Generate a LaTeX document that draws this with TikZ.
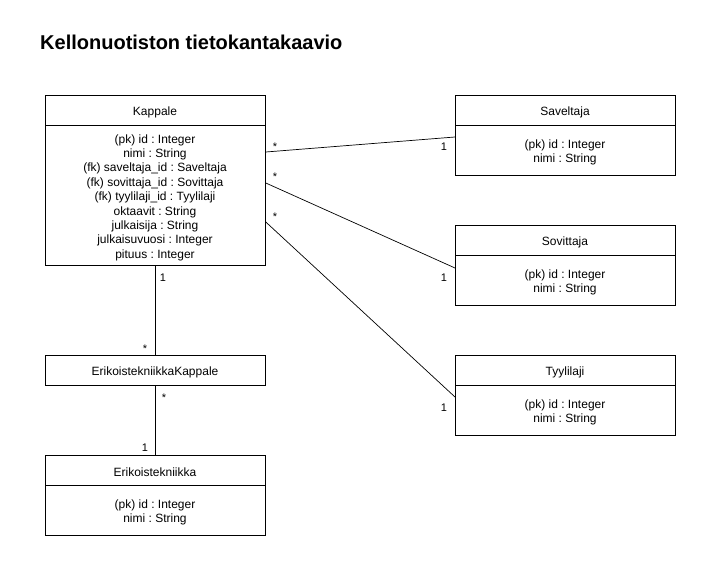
\documentclass[tikz,border=0pt]{standalone}
\usepackage{fontspec}
\setmainfont{Liberation Sans}
\usetikzlibrary{calc}
\frenchspacing
\begin{document}
\frenchspacing
\begin{tikzpicture}[x=1pt,y=-1pt,
  box/.style={draw,line width=0.8pt,anchor=north west,inner sep=0,minimum width=220pt},
  txt/.style={font=\fontsize{12}{14.4}\selectfont\frenchspacing,align=center,inner sep=0,yshift=-2pt},
  mult/.style={font=\fontsize{11}{13}\selectfont,inner sep=0,anchor=base},
  conn/.style={line width=0.7pt}]
\useasboundingbox (0,0) rectangle (701,561);
\node[anchor=base west,font=\fontsize{20}{24}\selectfont\bfseries,inner sep=0] (title) at (40,50) {Kellonuotiston tietokantakaavio};

% Kappale
\node[box,minimum height=170pt] (kappale) at (45,95) {};
\draw[line width=0.8pt] ([yshift=-30pt]kappale.north west) -- ([yshift=-30pt]kappale.north east);
\node[txt] (kappaleH) at (155,110) {Kappale};
\node[txt] (kappaleA) at (155,195.5) {(pk) id : Integer\\nimi : String\\(fk) saveltaja\_id : Saveltaja\\(fk) sovittaja\_id : Sovittaja\\(fk) tyylilaji\_id : Tyylilaji\\oktaavit : String\\julkaisija : String\\julkaisuvuosi : Integer\\pituus : Integer};

% Saveltaja
\node[box,minimum height=80pt] (saveltaja) at (455,95) {};
\draw[line width=0.8pt] ([yshift=-30pt]saveltaja.north west) -- ([yshift=-30pt]saveltaja.north east);
\node[txt] (saveltajaH) at (565,110) {Saveltaja};
\node[txt] (saveltajaA) at (565,150.5) {(pk) id : Integer\\nimi : String};

% Sovittaja
\node[box,minimum height=80pt] (sovittaja) at (455,225) {};
\draw[line width=0.8pt] ([yshift=-30pt]sovittaja.north west) -- ([yshift=-30pt]sovittaja.north east);
\node[txt] (sovittajaH) at (565,240) {Sovittaja};
\node[txt] (sovittajaA) at (565,280.5) {(pk) id : Integer\\nimi : String};

% Tyylilaji
\node[box,minimum height=80pt] (tyylilaji) at (455,355) {};
\draw[line width=0.8pt] ([yshift=-30pt]tyylilaji.north west) -- ([yshift=-30pt]tyylilaji.north east);
\node[txt] (tyylilajiH) at (565,370) {Tyylilaji};
\node[txt] (tyylilajiA) at (565,410.5) {(pk) id : Integer\\nimi : String};

% ErikoistekniikkaKappale
\node[box,minimum height=30pt] (ek) at (45,355) {};
\node[txt] (ekH) at (155,370) {ErikoistekniikkaKappale};

% Erikoistekniikka
\node[box,minimum height=80pt] (erik) at (45,455) {};
\draw[line width=0.8pt] ([yshift=-30pt]erik.north west) -- ([yshift=-30pt]erik.north east);
\node[txt] (erikH) at (155,470) {Erikoistekniikka};
\node[txt] (erikA) at (155,510.5) {(pk) id : Integer\\nimi : String};

% connectors
\draw[conn] ([yshift=-57pt]kappale.north east) -- ([yshift=-42pt]saveltaja.north west);
\draw[conn] ([yshift=-88pt]kappale.north east) -- ([yshift=-43pt]sovittaja.north west);
\draw[conn] ([yshift=-127pt]kappale.north east) -- ([yshift=-42pt]tyylilaji.north west);
\draw[conn] (kappale.south) -- (ek.north);
\draw[conn] (ek.south) -- (erik.north);

% multiplicities
\node[mult] (m1a) at (275,151) {*};
\node[mult] (m1b) at (444,151) {1};
\node[mult] (m2a) at (275,181) {*};
\node[mult] (m2b) at (444,281) {1};
\node[mult] (m3a) at (275,221) {*};
\node[mult] (m3b) at (444,411) {1};
\node[mult] (m4a) at (163,281) {1};
\node[mult] (m4b) at (145,352) {*};
\node[mult] (m5a) at (164,401) {*};
\node[mult] (m5b) at (145,451) {1};
\end{tikzpicture}
\end{document}
